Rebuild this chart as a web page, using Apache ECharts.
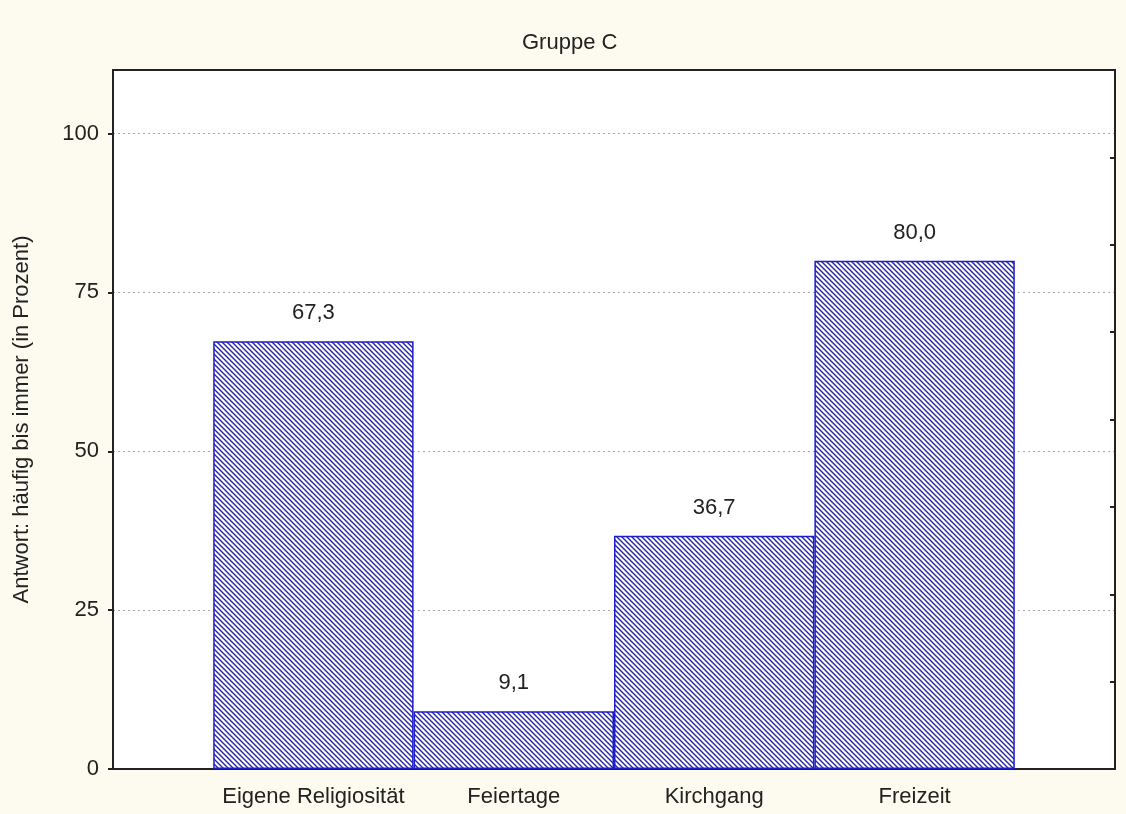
<!DOCTYPE html>
<html>
<head>
<meta charset="utf-8">
<script src="https://cdn.jsdelivr.net/npm/echarts@6/dist/echarts.min.js"></script>
<style>
html,body{margin:0;padding:0;background:#fdfbef;}
#chart{width:1126px;height:814px;}
</style>
</head>
<body>
<div id="chart"></div>
<script>
const title = 'Gruppe C';
const categories = ['Eigene Religiosität', 'Feiertage', 'Kirchgang', 'Freizeit'];
const values = [67.3, 9.1, 36.7, 80.0];
const yTicks = [0, 25, 50, 75, 100];
const yAxisName = 'Antwort: häufig bis immer (in Prozent)';

function makeHatch() {
  const c = document.createElement('canvas');
  const s = 5;
  c.width = s; c.height = s;
  const g = c.getContext('2d');
  g.fillStyle = '#ffffff';
  g.fillRect(0, 0, s, s);
  g.strokeStyle = '#2626a4';
  g.lineWidth = 1.4;
  g.beginPath();
  g.moveTo(-1, -1); g.lineTo(s + 1, s + 1);
  g.moveTo(-1, s - 1); g.lineTo(1, s + 1);
  g.moveTo(s - 1, -1); g.lineTo(s + 1, 1);
  g.stroke();
  return c;
}

const xData = [''].concat(categories).concat(['']);
const sData = ['-'].concat(values).concat(['-']);
const font = 'Liberation Sans, Arial, sans-serif';
const txt = '#222';
const grid = '#aaa';

const chart = echarts.init(document.getElementById('chart'));
chart.setOption({
  backgroundColor: '#fdfbef',
  animation: false,
  title: {
    text: title, left: 517, top: 27,
    textStyle: { fontFamily: font, fontSize: 22, fontWeight: 'normal', color: txt }
  },
  grid: {
    left: 113, right: 11, top: 70, bottom: 45,
    show: true, backgroundColor: '#ffffff', borderColor: '#222', borderWidth: 2
  },
  xAxis: {
    type: 'category', data: xData, boundaryGap: false,
    axisLine: { show: true, lineStyle: { color: '#222', width: 2 } },
    axisTick: { show: true, inside: true, length: 4, lineStyle: { color: '#222' } },
    axisLabel: { fontFamily: font, fontSize: 22, color: txt, margin: 17, interval: 0 },
    splitLine: { show: false }
  },
  yAxis: [{
    type: 'value', min: 0, max: 110, interval: 25,
    name: yAxisName, nameLocation: 'middle', nameGap: 80,
    nameTextStyle: { fontFamily: font, fontSize: 22, color: txt },
    axisLine: { show: true, lineStyle: { color: '#222', width: 2 } },
    axisTick: { show: true, inside: false, length: 5, lineStyle: { color: '#222', width: 2 } },
    axisLabel: { fontFamily: font, fontSize: 22, color: txt, margin: 14, showMaxLabel: false,
      formatter: v => yTicks.indexOf(v) >= 0 ? String(v) : '' },
    splitLine: { show: true, lineStyle: { color: [grid, grid, grid, grid, grid, 'rgba(0,0,0,0)'], type: [2, 3], width: 1 } }
  }, {
    type: 'value', min: 0, max: 8, interval: 1, position: 'right',
    axisLine: { show: true, lineStyle: { color: '#222', width: 2 } },
    axisTick: { show: true, inside: true, length: 5, lineStyle: { color: '#222', width: 2 } },
    axisLabel: { show: false },
    splitLine: { show: false }
  }],
  series: [{
    type: 'bar', data: sData, barWidth: '100%', yAxisIndex: 0,
    itemStyle: {
      color: { image: makeHatch(), repeat: 'repeat' },
      borderColor: '#1c1cc8', borderWidth: 1.5
    },
    label: {
      show: true, position: 'top', distance: 17,
      fontFamily: font, fontSize: 22, color: txt,
      formatter: p => p.value.toFixed(1).replace('.', ',')
    }
  }]
});
</script>
</body>
</html>
